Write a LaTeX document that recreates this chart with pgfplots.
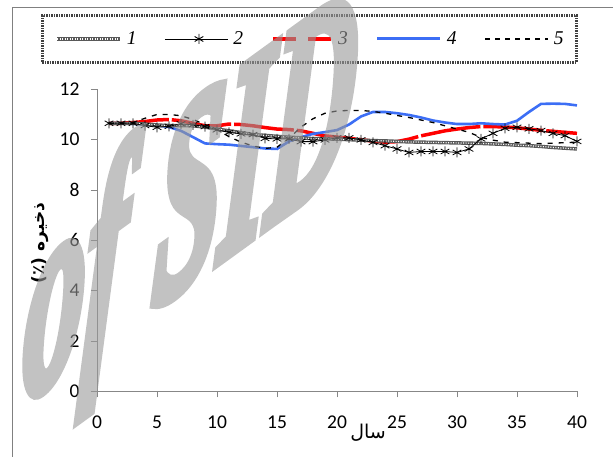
\documentclass[border=0pt]{standalone}
\usepackage{pgfplots}
\usepackage{pgfplotstable}
\pgfplotsset{compat=1.18}
\usepackage{fontspec}
\setmainfont{Carlito}
\newfontfamily\legfont{Liberation Serif}
\newfontfamily\wmfont{Liberation Serif}[BoldItalicFeatures={FakeBold=5}]
\newfontfamily\arabicfont[Script=Arabic]{DejaVu Sans}
\TeXXeTstate=1
\definecolor{myblue}{RGB}{60,110,245}

\pgfplotstableread{
x s1 s2 s3 s4 s5
1 10.65 10.65 10.65 10.65 10.65
2 10.65 10.65 10.65 10.65 10.65
3 10.65 10.65 10.68 10.63 10.68
4 10.62 10.56 10.72 10.60 10.85
5 10.58 10.49 10.78 10.57 11.00
6 10.56 10.53 10.80 10.50 11.00
7 10.56 10.63 10.75 10.35 10.95
8 10.55 10.59 10.65 10.10 10.80
9 10.50 10.52 10.55 9.85 10.60
10 10.42 10.39 10.55 9.82 10.40
11 10.35 10.29 10.62 9.80 10.12
12 10.28 10.23 10.60 9.75 9.90
13 10.20 10.20 10.55 9.70 9.75
14 10.17 10.05 10.48 9.65 9.65
15 10.13 10.03 10.42 9.63 9.70
16 10.10 10.03 10.40 9.93 10.05
17 10.07 9.92 10.35 10.10 10.50
18 10.04 9.92 10.25 10.23 10.83
19 10.03 9.99 10.15 10.30 11.05
20 10.02 10.07 10.10 10.38 11.14
21 10.00 10.07 10.05 10.60 11.16
22 9.98 9.99 10.00 10.92 11.16
23 9.96 9.89 9.94 11.10 11.12
24 9.95 9.76 9.90 11.10 11.05
25 9.93 9.63 9.92 11.05 10.96
26 9.91 9.49 10.02 10.98 10.88
27 9.90 9.53 10.15 10.88 10.78
28 9.89 9.53 10.25 10.76 10.68
29 9.88 9.53 10.35 10.68 10.55
30 9.87 9.49 10.42 10.62 10.42
31 9.86 9.63 10.48 10.62 10.29
32 9.85 10.03 10.52 10.65 10.09
33 9.83 10.25 10.52 10.62 9.98
34 9.81 10.45 10.50 10.60 9.90
35 9.78 10.49 10.47 10.75 9.88
36 9.76 10.43 10.42 11.10 9.86
37 9.73 10.36 10.37 11.42 9.84
38 9.69 10.25 10.33 11.43 9.86
39 9.66 10.16 10.29 11.42 9.88
40 9.63 9.93 10.25 11.36 9.90
}\data

\tikzset{
  sone/.style={draw=black!65, line width=3.5bp, postaction={draw=white, line width=1.2bp, dash pattern=on 1bp off 1.5bp}},
}

\begin{document}
\begin{tikzpicture}
\useasboundingbox (0,0) rectangle (613bp,-457bp);
\begin{scope}
\clip (0,0) rectangle (613bp,-457bp);
\draw[black!50, line width=1bp] (12bp,-460bp) -- (12bp,-7bp) -- (620bp,-7bp);
\begin{axis}[
  at={(97bp,-391.3bp)}, anchor=south west,
  width=480bp, height=302bp, scale only axis,
  xmin=0, xmax=40, ymin=0, ymax=12,
  axis x line*=bottom, axis y line*=left,
  axis line style={draw=black!47, line width=0.8bp, -},
  xtick={0,5,...,40}, ytick={0,2,...,12},
  tick align=outside, major tick length=6bp,
  tick style={black!47, line width=0.8bp},
  ticklabel style={font=\fontsize{19.5bp}{22bp}\selectfont},
  xticklabel style={yshift=-15bp},
  yticklabel style={xshift=-8bp},
  /pgf/number format/assume math mode=true,
  clip=false,
  xlabel={\arabicfont\beginR سال\endR},
  xlabel style={at={(axis description cs:0.5646,0)}, anchor=center, yshift=-41bp, font=\fontsize{19bp}{22bp}\selectfont},
  ylabel={\arabicfont\bfseries (٪) \beginR ذخیره\endR},
  ylabel style={at={(axis description cs:-0.119,0.491)}, anchor=center, rotate=0, font=\fontsize{17bp}{20bp}\selectfont},
  legend columns=5,
  legend style={at={(axis description cs:0.4427,1.1666)}, anchor=center,
    draw=black!75, line width=2.8bp, dash pattern=on 1.5bp off 1bp,
    inner xsep=13bp, inner ysep=16bp,
    font=\legfont\itshape\fontsize{19.5bp}{22bp}\selectfont,
    nodes={inner sep=0bp}, column sep=0bp,
    /tikz/every odd column/.append style={column sep=5bp},
    /tikz/every even column/.append style={column sep=28bp}},
]
\addlegendimage{legend image code/.code={\draw[sone] (0bp,0bp) -- (63bp,0bp);}}
\addlegendentry{1}
\addlegendimage{legend image code/.code={\draw[black, line width=0.9bp] (0bp,0bp) -- (63bp,0bp); \draw[black, line width=0.9bp] plot[only marks, mark=asterisk, mark size=5bp] coordinates {(34bp,0bp)};}}
\addlegendentry{2}
\addlegendimage{legend image code/.code={\draw[red, line width=4bp] (0bp,0bp) -- (23bp,0bp) (35bp,0bp) -- (58bp,0bp);}}
\addlegendentry{3}
\addlegendimage{legend image code/.code={\draw[myblue, line width=3bp] (0bp,0bp) -- (63bp,0bp);}}
\addlegendentry{4}
\addlegendimage{legend image code/.code={\draw[black, line width=1.3bp, dash pattern=on 5bp off 5bp] (0bp,0bp) -- (63bp,0bp);}}
\addlegendentry{5}

\addplot[forget plot, red, line width=3.5bp, dash pattern=on 60bp off 3bp] table[x=x, y=s3] {\data};
\addplot[forget plot, myblue, line width=2.6bp] table[x=x, y=s4] {\data};
\addplot[forget plot, sone] table[x=x, y=s1] {\data};
\addplot[forget plot, black, line width=1.3bp, dash pattern=on 5bp off 6bp] table[x=x, y=s5] {\data};
\addplot[forget plot, black, line width=0.8bp, mark=asterisk, mark size=5bp] table[x=x, y=s2] {\data};
\end{axis}
\begin{scope}[transparency group, opacity=0.6]
\begin{scope}[shift={(190bp,-216bp)}, cm={0.8,0.58,0.12,1.86,(0,0)}]
\node[transform shape, text=black!40, inner sep=0pt,
  font=\wmfont\bfseries\itshape\fontsize{150bp}{150bp}\selectfont] at (0,0) {of SID};
\end{scope}
\end{scope}
\end{scope}
\end{tikzpicture}
\end{document}
